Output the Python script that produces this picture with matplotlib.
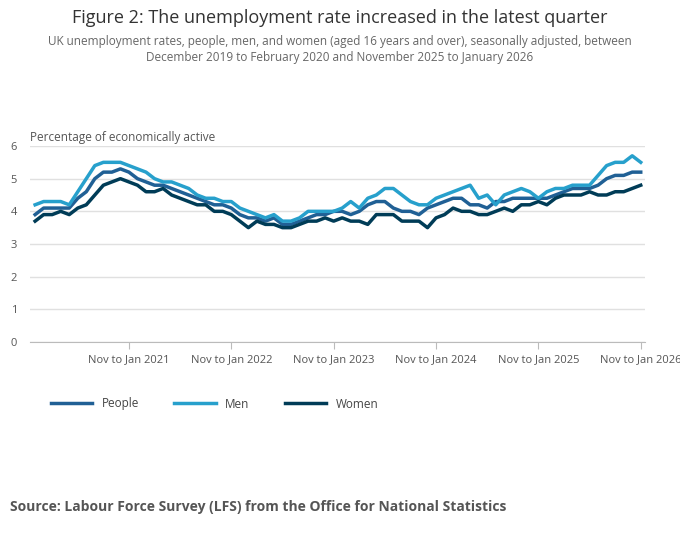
import matplotlib.pyplot as plt
import numpy as np

plt.rcParams['font.family'] = ['Open Sans', 'DejaVu Sans']

tick_labels = ["Nov to Jan 2021", "Nov to Jan 2022", "Nov to Jan 2023",
               "Nov to Jan 2024", "Nov to Jan 2025", "Nov to Jan 2026"]
tick_idx = [11, 23, 35, 47, 59, 71]

people = [3.9,4.1,4.1,4.1,4.1,4.4,4.6,5.0,5.2,5.2,
          5.3,5.2,5.0,4.9,4.8,4.8,4.7,4.6,4.5,4.4,
          4.3,4.2,4.2,4.1,3.9,3.8,3.8,3.7,3.8,3.6,
          3.6,3.7,3.8,3.9,3.9,4.0,4.0,3.9,4.0,4.2,
          4.3,4.3,4.1,4.0,4.0,3.9,4.1,4.2,4.3,4.4,
          4.4,4.2,4.2,4.1,4.3,4.3,4.4,4.4,4.4,4.4,
          4.4,4.5,4.6,4.7,4.7,4.7,4.8,5.0,5.1,5.1,
          5.2,5.2]
men = [4.2,4.3,4.3,4.3,4.2,4.6,5.0,5.4,5.5,5.5,
       5.5,5.4,5.3,5.2,5.0,4.9,4.9,4.8,4.7,4.5,
       4.4,4.4,4.3,4.3,4.1,4.0,3.9,3.8,3.9,3.7,
       3.7,3.8,4.0,4.0,4.0,4.0,4.1,4.3,4.1,4.4,
       4.5,4.7,4.7,4.5,4.3,4.2,4.2,4.4,4.5,4.6,
       4.7,4.8,4.4,4.5,4.2,4.5,4.6,4.7,4.6,4.4,
       4.6,4.7,4.7,4.8,4.8,4.8,5.1,5.4,5.5,5.5,
       5.7,5.5]
women = [3.7,3.9,3.9,4.0,3.9,4.1,4.2,4.5,4.8,4.9,
         5.0,4.9,4.8,4.6,4.6,4.7,4.5,4.4,4.3,4.2,
         4.2,4.0,4.0,3.9,3.7,3.5,3.7,3.6,3.6,3.5,
         3.5,3.6,3.7,3.7,3.8,3.7,3.8,3.7,3.7,3.6,
         3.9,3.9,3.9,3.7,3.7,3.7,3.5,3.8,3.9,4.1,
         4.0,4.0,3.9,3.9,4.0,4.1,4.0,4.2,4.2,4.3,
         4.2,4.4,4.5,4.5,4.5,4.6,4.5,4.5,4.6,4.6,
         4.7,4.8]

fig = plt.figure(figsize=(6.8, 5.33), dpi=100)
ax = fig.add_axes([30/680, 191/533, 615/680, 196/533])
x = np.arange(len(people))
ax.plot(x, people, color='#206095', lw=2.5, label='People')
ax.plot(x, men, color='#27a0cc', lw=2.5, label='Men')
ax.plot(x, women, color='#003c57', lw=2.5, label='Women')

ax.set_xlim(-0.6, 71.5)
ax.set_ylim(0, 6)
ax.set_yticks(range(7))
ax.grid(axis='y', color='#e0e0e0', lw=1)
ax.set_axisbelow(True)
for s in ['top', 'right', 'left']:
    ax.spines[s].set_visible(False)
ax.spines['bottom'].set_color('#bbbbbb')
ax.set_xticks(tick_idx)
ax.set_xticklabels(tick_labels)
ax.tick_params(axis='x', colors='#bbbbbb', labelcolor='#555555', labelsize=8, length=5)
ax.tick_params(axis='y', length=0, labelsize=8, labelcolor='#555555', pad=14)
for lab in ax.get_yticklabels():
    lab.set_horizontalalignment('left')

fig.text(0.5, 18/533, "Figure 2: The unemployment rate increased in the latest quarter",
         ha='center', va='center', fontsize=13, color='#333333', transform=fig.transFigure)
fig.text(0.5, 1 - 18/533, "Figure 2: The unemployment rate increased in the latest quarter",
         ha='center', va='center', fontsize=13, color='#333333')
fig.texts.pop(0)
fig.text(0.5, 1 - 49/533,
         "UK unemployment rates, people, men, and women (aged 16 years and over), seasonally adjusted, between\n"
         "December 2019 to February 2020 and November 2025 to January 2026",
         ha='center', va='center', fontsize=8.5, color='#666666', linespacing=1.3)
fig.text(30/680, 1 - 138/533, "Percentage of economically active",
         ha='left', va='center', fontsize=8.5, color='#555555')
fig.legend(loc='center left', bbox_to_anchor=(40/680, 1 - 404/533), ncol=3,
           frameon=False, fontsize=8.5, handlelength=3.5, columnspacing=3,
           labelcolor='#444444')
fig.text(10/680, 1 - 507/533,
         "Source: Labour Force Survey (LFS) from the Office for National Statistics",
         ha='left', va='center', fontsize=10, fontweight='bold', color='#555555')

fig.savefig('out.png', dpi=100)
